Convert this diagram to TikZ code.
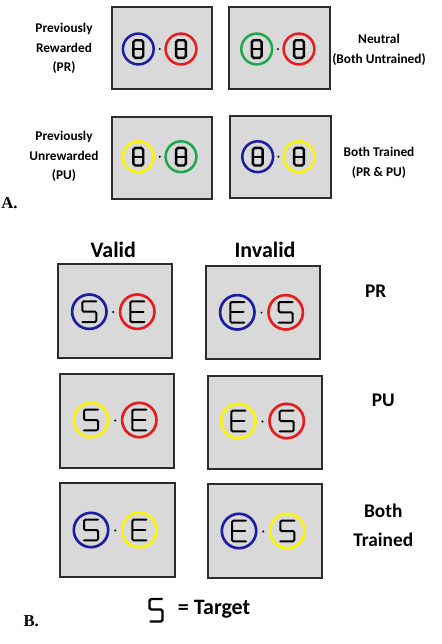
\documentclass[tikz,border=0pt]{standalone}
\usepackage{fontspec}
\newfontfamily\lab{Carlito}
\newfontfamily\tms{Liberation Serif}
\definecolor{cblue}{RGB}{28,28,165}
\definecolor{cred}{RGB}{232,28,30}
\definecolor{cgreen}{RGB}{30,168,78}
\definecolor{cyel}{RGB}{250,245,10}
\definecolor{boxfill}{RGB}{217,217,217}
\definecolor{boxedge}{RGB}{45,45,45}
\tikzset{
  panelbox/.style={draw=boxedge, fill=boxfill, line width=1.5pt},
  ringA/.style={line width=1.9pt},
  ringB/.style={line width=2pt},
  segA/.style={draw=black, line width=1.8pt, rounded corners=1.4pt},
  segB/.style={draw=black, line width=1.5pt, rounded corners=1pt, line cap=round},
  segT/.style={draw=black, line width=1.8pt, rounded corners=1.2pt},
  sidelabel/.style={font=\lab\bfseries\fontsize{10}{14.6}\selectfont, align=center, text=black},
  headlabel/.style={font=\lab\bfseries\fontsize{16.5}{20}\selectfont},
  rowlabel/.style={font=\lab\bfseries\fontsize{14.5}{21.75}\selectfont, align=center},
  partlabel/.style={font=\tms\bfseries\fontsize{12.5}{14}\selectfont},
  eight/.pic={\draw[segA] (-4.9,-8.8) rectangle (4.9,8.8); \draw[segA] (-4.9,0) -- (4.9,0);},
  five/.pic={\draw[segB] (7,-10.3) -- (-7,-10.3) -- (-7,0) -- (7,0) -- (7,10.3) -- (-7,10.3);},
  eee/.pic={\draw[segB] (7,-10.3) -- (-7,-10.3) -- (-7,10.3) -- (7,10.3); \draw[segB] (-7,0) -- (6.2,0);},
}
\begin{document}
\begin{tikzpicture}[x=0.75pt,y=-0.75pt]
\useasboundingbox (0,0) rectangle (442,644);
\fill[white] (0,0) rectangle (442,644);

% ---------- Panel A ----------
\draw[panelbox] (111.7,7.3) rectangle (211.7,89.3);
\draw[panelbox] (229.3,7.3) rectangle (330,89.3);
\draw[panelbox] (111.7,117.3) rectangle (212.3,199.3);
\draw[panelbox] (230,116) rectangle (331,198.3);

\foreach \x/\y/\c in {138.3/49/cblue, 181/49/cred,
                      256.7/49/cgreen, 299/49/cred,
                      138.3/156.7/cyel, 181/156.7/cgreen,
                      257.7/156.7/cblue, 299/156.7/cyel}{
  \draw[ringA, draw=\c] (\x,\y) circle[radius=15.4];
  \pic at (\x,\y) {eight};
}
\foreach \x/\y in {159.7/49, 277.9/49, 159.7/156.7, 278.4/156.7}{
  \fill[black] (\x,\y) circle[radius=1.1];
}

\node[sidelabel] (lpr) at (64,48.5) {Previously\\Rewarded\\(PR)};
\node[sidelabel] (lpu) at (64,156.5) {Previously\\Unrewarded\\(PU)};
\node[sidelabel] (lneu) at (379,50) {Neutral\\(Both Untrained)};
\node[sidelabel] (lboth) at (379,163) {Both Trained\\(PR \& PU)};
\node[partlabel, anchor=base west, inner sep=0pt] (la) at (1,208) {A.};

% ---------- Panel B ----------
\node[headlabel] (valid) at (113.3,250) {Valid};
\node[headlabel] (invalid) at (265,250) {Invalid};

\draw[panelbox] (58.3,264.3) rectangle (172.3,357.7);
\draw[panelbox] (206,265.7) rectangle (320,359.3);
\draw[panelbox] (60,374.3) rectangle (174.3,467.7);
\draw[panelbox] (207.7,375.7) rectangle (322.3,469);
\draw[panelbox] (60,483.3) rectangle (174.7,576.7);
\draw[panelbox] (207.7,484.3) rectangle (322.3,577.7);

\foreach \x/\y/\c/\d in {89.3/311.7/cblue/five, 137.3/311.7/cred/eee,
                         237.3/312.3/cblue/eee, 285.7/312.3/cred/five,
                         91/420/cyel/five, 139.3/420/cred/eee,
                         238.3/421/cyel/eee, 286.7/421/cred/five,
                         91/530/cblue/five, 139.3/530/cyel/eee,
                         239/531/cblue/eee, 287.3/531/cyel/five}{
  \draw[ringB, draw=\c] (\x,\y) circle[radius=17.2];
  \pic at (\x,\y) {\d};
}
\foreach \x/\y in {113.3/312, 261.5/312.6, 115.2/420.5, 262.5/421.5, 115.2/530.5, 263.2/531.5}{
  \fill[black] (\x,\y) circle[radius=1.1];
}

\node[rowlabel] (rpr) at (375.7,291.7) {PR};
\node[rowlabel] (rpu) at (383.3,400) {PU};
\node[rowlabel] (rboth) at (383.3,525.5) {Both\\Trained};

\draw[segT] (162.5,599) -- (149.5,599) -- (149.5,609.5) -- (162.5,609.5) -- (162.5,621.5) -- (149.5,621.5);
\node[headlabel, anchor=west, inner sep=0pt] (tgt) at (177.7,609.5) {= Target};
\node[partlabel, anchor=base west, inner sep=0pt] (lb) at (23.3,626) {B.};
\end{tikzpicture}
\end{document}
